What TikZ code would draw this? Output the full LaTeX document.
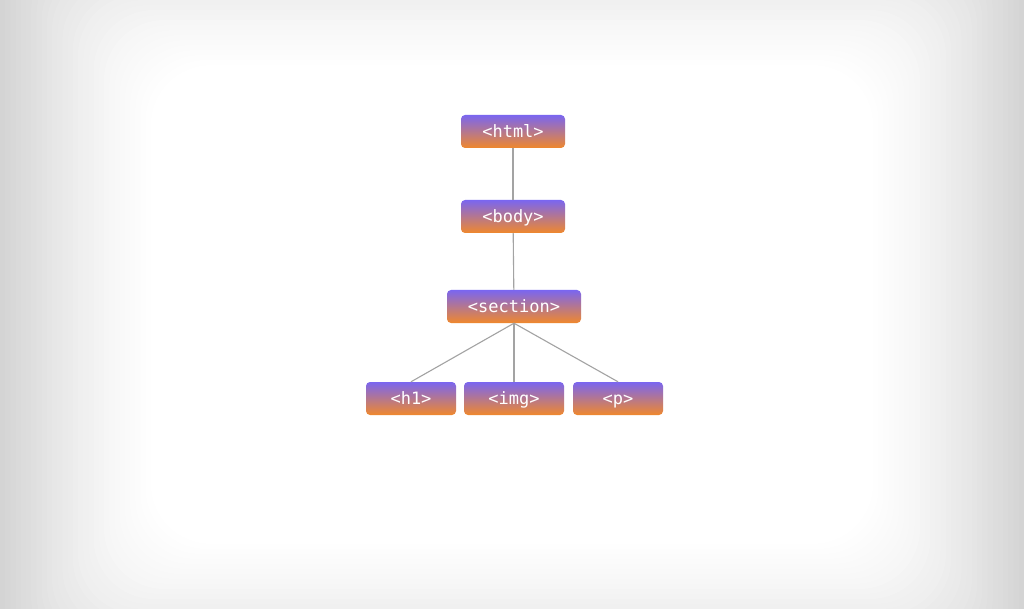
\documentclass[tikz,border=0pt]{standalone}
\usepackage{fontspec}
\setmonofont{DejaVu Sans Mono}
\usepackage{tikz}

\definecolor{tagtop}{HTML}{7A66F0}
\definecolor{tagbot}{HTML}{F0882C}
\definecolor{edgegray}{HTML}{A3A3A3}

\tikzset{
  tag/.style={rounded corners=4pt, top color=tagtop, bottom color=tagbot,
    text=white, font=\ttfamily\fontsize{17}{19}\selectfont,
    minimum height=33pt, inner sep=0pt, text height=13.5pt, text depth=2pt},
  link/.style={draw=edgegray, line width=1.1pt}
}

\begin{document}
\begin{tikzpicture}[x=1pt,y=-1pt]
        % background
        \useasboundingbox (0,0) rectangle (1024,609);
        \begin{scope}
        \clip (0,0) rectangle (1024,609);
        \foreach \i in {0,...,30}{
            \pgfmathsetmacro{\shadeval}{17*((30-\i)/30)^1.4}
            \fill[black!\shadeval!white, rounded corners=60pt]
                ({5.2*\i},{5*(\i-16)}) rectangle ({1024-5.2*\i},{609-5*(\i-16)});
        }
        \end{scope}
        % tags
        \node[tag, minimum width=104pt] (html) at (513,131.5) {<html>};
        \node[tag, minimum width=104pt] (body) at (513,216.5) {<body>};
        \node[tag, minimum width=134pt] (section) at (514,306.5) {<section>};
        \node[tag, minimum width=90pt] (hone) at (411,398.5) {<h1>};
        \node[tag, minimum width=100pt] (img) at (514,398.5) {<img>};
        \node[tag, minimum width=90pt] (para) at (618,398.5) {<p>};
        % links
        \draw[link] (html) -- (body);
        \draw[link] (body) -- (section);
        \foreach \n in {hone, img, para}
        \draw[link] (section.south) -- (\n.north);
    \end{tikzpicture}
\end{document}
